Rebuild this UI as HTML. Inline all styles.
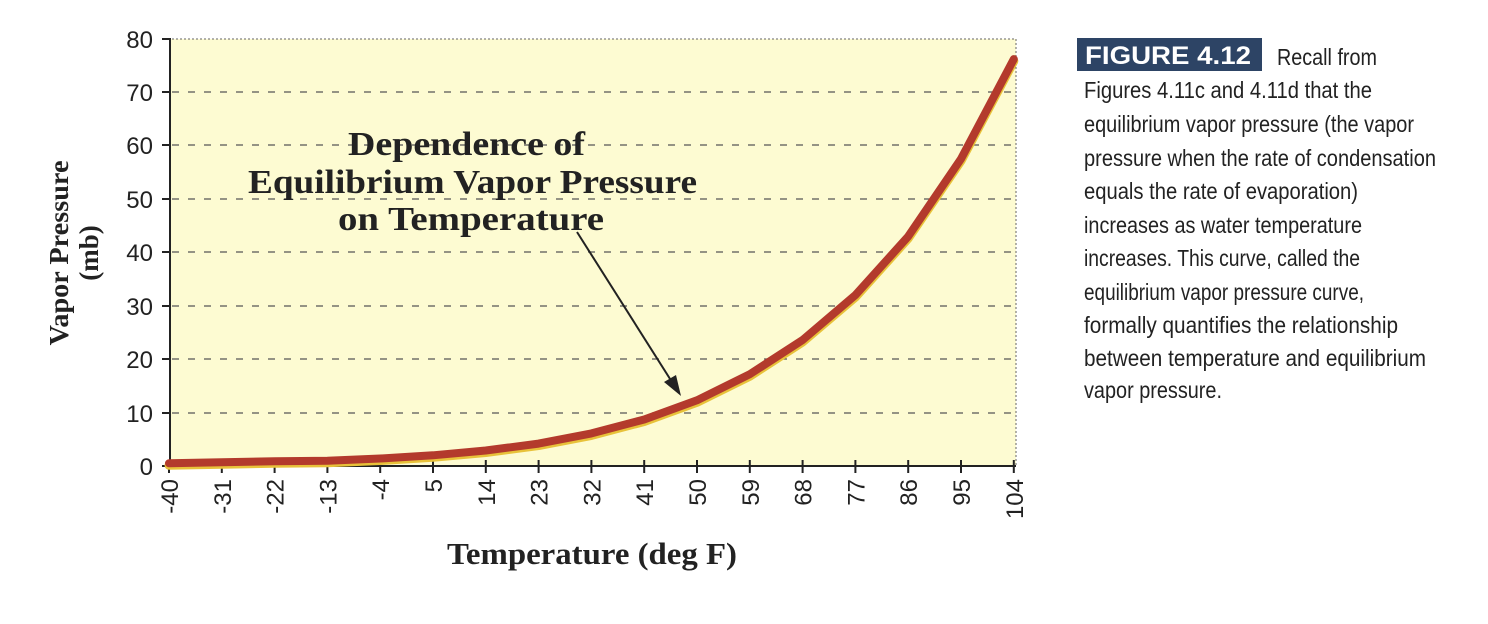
<!DOCTYPE html>
<html><head><meta charset="utf-8"><style>
html,body{margin:0;padding:0;background:#fff;}
svg{display:block;}
</style></head><body>
<svg width="1488" height="624" viewBox="0 0 1488 624" xmlns="http://www.w3.org/2000/svg">
<rect x="170" y="39" width="846" height="427" fill="#fdfbd2"/>
<g stroke="#555" stroke-width="1.3" stroke-dasharray="7,9">
<line x1="172" y1="92" x2="1016" y2="92"/>
<line x1="172" y1="145" x2="1016" y2="145"/>
<line x1="172" y1="199" x2="1016" y2="199"/>
<line x1="172" y1="252" x2="1016" y2="252"/>
<line x1="172" y1="306" x2="1016" y2="306"/>
<line x1="172" y1="359" x2="1016" y2="359"/>
<line x1="172" y1="413" x2="1016" y2="413"/>
</g>
<g stroke="#666" stroke-width="1" stroke-dasharray="2,2">
<line x1="172" y1="39" x2="1016" y2="39"/>
<line x1="1016" y1="39" x2="1016" y2="466"/>
</g>
<g stroke="#222" stroke-width="2">
<line x1="170" y1="38" x2="170" y2="467"/>
<line x1="169" y1="466" x2="1016" y2="466"/>
<line x1="162" y1="39" x2="170" y2="39"/><line x1="162" y1="92" x2="170" y2="92"/>
<line x1="162" y1="145" x2="170" y2="145"/><line x1="162" y1="199" x2="170" y2="199"/>
<line x1="162" y1="252" x2="170" y2="252"/><line x1="162" y1="306" x2="170" y2="306"/>
<line x1="162" y1="359" x2="170" y2="359"/><line x1="162" y1="413" x2="170" y2="413"/>
<line x1="162" y1="466" x2="170" y2="466"/>
</g>
<g stroke="#222" stroke-width="2" id="xt"></g>
<g font-family="Liberation Sans, sans-serif" font-size="24" fill="#222" text-anchor="end">
<text x="153" y="48">80</text><text x="153" y="101">70</text><text x="153" y="154">60</text>
<text x="153" y="208">50</text><text x="153" y="261">40</text><text x="153" y="315">30</text>
<text x="153" y="368">20</text><text x="153" y="422">10</text><text x="153" y="475">0</text>
</g>
<g id="xl" font-family="Liberation Sans, sans-serif" font-size="24" fill="#222" text-anchor="end"></g>
<path id="curve" fill="none" stroke="#e8c23a" stroke-width="9" stroke-linejoin="round" stroke-linecap="round" transform="translate(0,2)"/>
<path id="curve2" fill="none" stroke="#b33a2c" stroke-width="8" stroke-linejoin="round" stroke-linecap="round"/>
<g font-family="Liberation Serif, serif" font-weight="bold" font-size="34" fill="#222" lengthAdjust="spacingAndGlyphs">
<text x="348" y="155" textLength="237" lengthAdjust="spacingAndGlyphs">Dependence of</text>
<text x="248" y="193" textLength="449" lengthAdjust="spacingAndGlyphs">Equilibrium Vapor Pressure</text>
<text x="338" y="230" textLength="266" lengthAdjust="spacingAndGlyphs">on Temperature</text>
</g>
<line x1="577" y1="232" x2="672" y2="382" stroke="#222" stroke-width="2"/>
<polygon points="681,396 664,382 676,375" fill="#222"/>
<g font-family="Liberation Serif, serif" font-weight="bold" font-size="27" fill="#222" text-anchor="middle">
<text transform="translate(68,253) rotate(-90)" textLength="185" lengthAdjust="spacingAndGlyphs">Vapor Pressure</text>
<text transform="translate(98,253) rotate(-90)">(mb)</text>
</g>
<text x="447" y="564" font-family="Liberation Serif, serif" font-weight="bold" font-size="31" fill="#222" textLength="290" lengthAdjust="spacingAndGlyphs">Temperature (deg F)</text>
<rect x="1077" y="38" width="185" height="33" fill="#2d4465"/>
<text x="1085" y="64" font-family="Liberation Sans, sans-serif" font-weight="bold" font-size="25" fill="#fff" textLength="166" lengthAdjust="spacingAndGlyphs">FIGURE 4.12</text>
<g font-family="Liberation Sans Narrow, Liberation Sans, sans-serif" font-size="23" fill="#222">
<text x="1277" y="65" textLength="100" lengthAdjust="spacingAndGlyphs">Recall from</text>
<text x="1084" y="98" textLength="288" lengthAdjust="spacingAndGlyphs">Figures 4.11c and 4.11d that the</text>
<text x="1084" y="132" textLength="330" lengthAdjust="spacingAndGlyphs">equilibrium vapor pressure (the vapor</text>
<text x="1084" y="166" textLength="352" lengthAdjust="spacingAndGlyphs">pressure when the rate of condensation</text>
<text x="1084" y="199" textLength="274" lengthAdjust="spacingAndGlyphs">equals the rate of evaporation)</text>
<text x="1084" y="233" textLength="278" lengthAdjust="spacingAndGlyphs">increases as water temperature</text>
<text x="1084" y="266" textLength="276" lengthAdjust="spacingAndGlyphs">increases. This curve, called the</text>
<text x="1084" y="300" textLength="280" lengthAdjust="spacingAndGlyphs">equilibrium vapor pressure curve,</text>
<text x="1084" y="333" textLength="314" lengthAdjust="spacingAndGlyphs">formally quantifies the relationship</text>
<text x="1084" y="366" textLength="342" lengthAdjust="spacingAndGlyphs">between temperature and equilibrium</text>
<text x="1084" y="398" textLength="138" lengthAdjust="spacingAndGlyphs">vapor pressure.</text>
</g>
<script>
var labs=[-40,-31,-22,-13,-4,5,14,23,32,41,50,59,68,77,86,95,104];
var vals=[0.5,0.7,0.9,1.0,1.4,2.0,2.9,4.2,6.1,8.7,12.3,17.2,23.6,32.0,43.0,57.5,76.2];
var ns="http://www.w3.org/2000/svg",xt=document.getElementById('xt'),xl=document.getElementById('xl'),d="";
for(var i=0;i<17;i++){var x=169+i*52.8;
var l=document.createElementNS(ns,'line');l.setAttribute('x1',x);l.setAttribute('x2',x);l.setAttribute('y1',460);l.setAttribute('y2',473);xt.appendChild(l);
var t=document.createElementNS(ns,'text');t.setAttribute('transform','translate('+(x+9)+',479) rotate(-90)');t.textContent=labs[i];xl.appendChild(t);
var y=466-vals[i]*5.34;d+=(i?"L":"M")+x.toFixed(1)+","+y.toFixed(1);}
document.getElementById('curve').setAttribute('d',d);document.getElementById('curve2').setAttribute('d',d);
</script>
</svg>
</body></html>
